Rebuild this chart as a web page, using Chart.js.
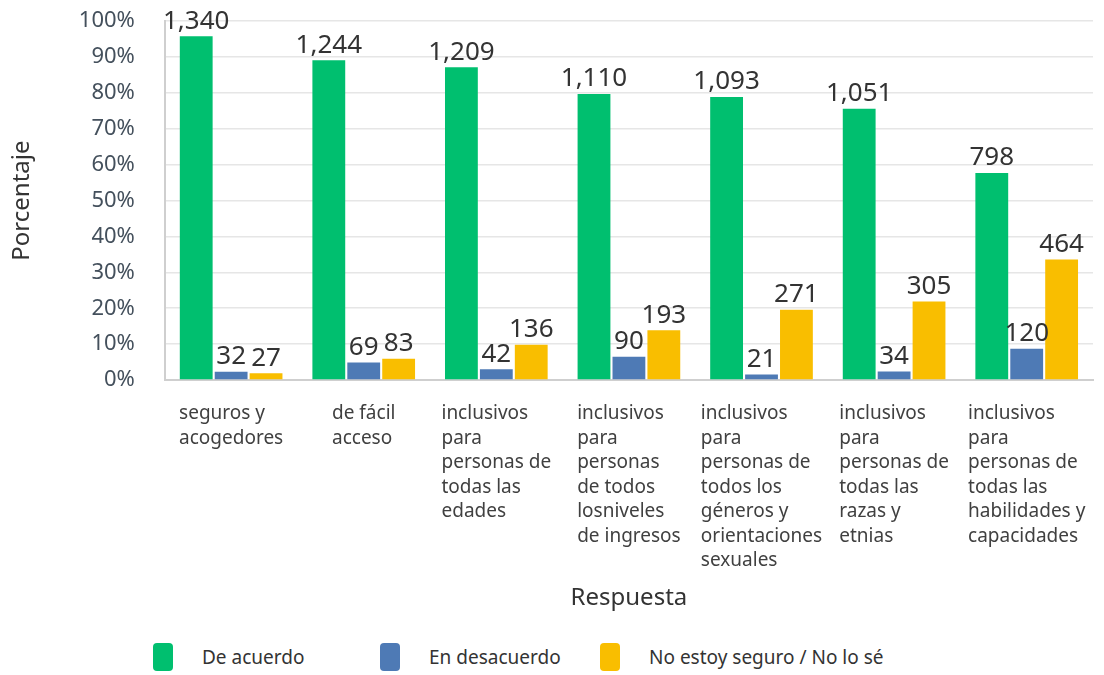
<!DOCTYPE html>
<html>
<head>
<meta charset="utf-8">
<script src="https://cdn.jsdelivr.net/npm/chart.js@4.4.1/dist/chart.umd.min.js"></script>
<style>
  body { margin: 0; background: #fff; font-family: "Noto Sans", sans-serif; overflow: hidden; }
  #wrap { position: relative; width: 1104px; height: 675px; overflow: hidden; }
  #chartBox { position: absolute; left: 0; top: -22px; width: 1104px; height: 642px; }
  .leg { position: absolute; top: 643px; display: flex; align-items: center; font-size: 19px; color: #333; }
  .leg span.box { width: 20px; height: 28px; border-radius: 4px; margin-right: 29px; }
</style>
</head>
<body>
<div id="wrap">
  <div id="chartBox"><canvas id="chart"></canvas></div>
  <div id="legend"></div>
</div>
<script>
const categories = [
  ["seguros y", "acogedores"],
  ["de fácil", "acceso"],
  ["inclusivos", "para", "personas de", "todas las", "edades"],
  ["inclusivos", "para", "personas", "de todos", "losniveles", "de ingresos"],
  ["inclusivos", "para", "personas de", "todos los", "géneros y", "orientaciones", "sexuales"],
  ["inclusivos", "para", "personas de", "todas las", "razas y", "etnias"],
  ["inclusivos", "para", "personas de", "todas las", "habilidades y", "capacidades"]
];
const seriesNames = ["De acuerdo", "En desacuerdo", "No estoy seguro / No lo sé"];
const seriesColors = ["#00bf6f", "#4e7ab5", "#f9be00"];
// percent of respondents per group
const pctAgree = [95.8, 89.1, 87.2, 79.7, 78.9, 75.6, 57.7];
const pctDisagree = [2.3, 4.9, 3.0, 6.5, 1.5, 2.4, 8.7];
const pctUnsure = [1.9, 5.9, 9.8, 13.9, 19.6, 21.9, 33.6];
// counts shown above the bars
const cntAgree = [1340, 1244, 1209, 1110, 1093, 1051, 798];
const cntDisagree = [32, 69, 42, 90, 21, 34, 120];
const cntUnsure = [27, 83, 136, 193, 271, 305, 464];
const yTicks = [0, 10, 20, 30, 40, 50, 60, 70, 80, 90, 100];

const FONT = '"Noto Sans", sans-serif';
const counts = [cntAgree, cntDisagree, cntUnsure];

// legend
const legendX = [153, 380, 600];
const legend = document.getElementById("legend");
seriesNames.forEach((name, i) => {
  const item = document.createElement("div");
  item.className = "leg";
  item.style.left = legendX[i] + "px";
  item.innerHTML = '<span class="box" style="background:' + seriesColors[i] + '"></span>' + name;
  legend.appendChild(item);
});

const countLabels = {
  id: "countLabels",
  afterDatasetsDraw(chart) {
    const ctx = chart.ctx;
    ctx.save();
    ctx.font = "26px " + FONT;
    ctx.fillStyle = "#333";
    ctx.textAlign = "center";
    ctx.textBaseline = "bottom";
    chart.data.datasets.forEach((ds, di) => {
      chart.getDatasetMeta(di).data.forEach((bar, i) => {
        ctx.fillText(counts[di][i].toLocaleString("en-US"), bar.x, bar.y - 2);
      });
    });
    ctx.restore();
  }
};

// category labels: block centred on the tick, lines left aligned
const leftLabels = {
  id: "leftLabels",
  afterDraw(chart) {
    const ctx = chart.ctx;
    const xs = chart.scales.x;
    const lh = 24.5;
    ctx.save();
    ctx.font = "19px " + FONT;
    ctx.fillStyle = "#404040";
    ctx.textAlign = "left";
    ctx.textBaseline = "middle";
    categories.forEach((lines, i) => {
      const cx = xs.getPixelForTick(i);
      const w = Math.max(...lines.map(l => ctx.measureText(l).width));
      lines.forEach((l, j) => {
        ctx.fillText(l, cx - w / 2, xs.top + 34 + j * lh);
      });
    });
    ctx.restore();
  }
};

new Chart(document.getElementById("chart"), {
  type: "bar",
  data: {
    labels: categories,
    datasets: [
      { label: seriesNames[0], data: pctAgree, backgroundColor: seriesColors[0] },
      { label: seriesNames[1], data: pctDisagree, backgroundColor: seriesColors[1] },
      { label: seriesNames[2], data: pctUnsure, backgroundColor: seriesColors[2] }
    ]
  },
  options: {
    responsive: true,
    maintainAspectRatio: false,
    animation: false,
    layout: { padding: { top: 0, right: 11, left: 8, bottom: 7 } },
    datasets: { bar: { categoryPercentage: 0.79, barPercentage: 0.94 } },
    plugins: {
      legend: { display: false },
      tooltip: { enabled: false }
    },
    scales: {
      x: {
        grid: { display: false },
        border: { color: "#cfcfcf", width: 2 },
        ticks: {
          color: "rgba(0,0,0,0)",
          font: { family: FONT, size: 16, lineHeight: 1.2 },
          padding: 0,
          maxRotation: 0,
          autoSkip: false
        },
        afterFit(scale) {
          scale.height = 233;
        },
        title: {
          display: true,
          text: "Respuesta",
          color: "#333",
          font: { family: FONT, size: 24 },
          padding: { top: 8, bottom: 0 }
        }
      },
      y: {
        min: 0,
        max: 100,
        afterBuildTicks(axis) {
          axis.ticks = yTicks.map(v => ({ value: v }));
        },
        grid: { color: "#e6e6e6", lineWidth: 1.5, drawTicks: false },
        border: { color: "#cfcfcf", width: 2 },
        ticks: {
          color: "#44505c",
          font: { family: FONT, size: 22 },
          padding: 30,
          callback: v => v + "%"
        },
        title: {
          display: true,
          text: "Porcentaje",
          color: "#333",
          font: { family: FONT, size: 24 },
          padding: { top: 0, bottom: 12 }
        }
      }
    }
  },
  plugins: [countLabels, leftLabels]
});
</script>
</body>
</html>
